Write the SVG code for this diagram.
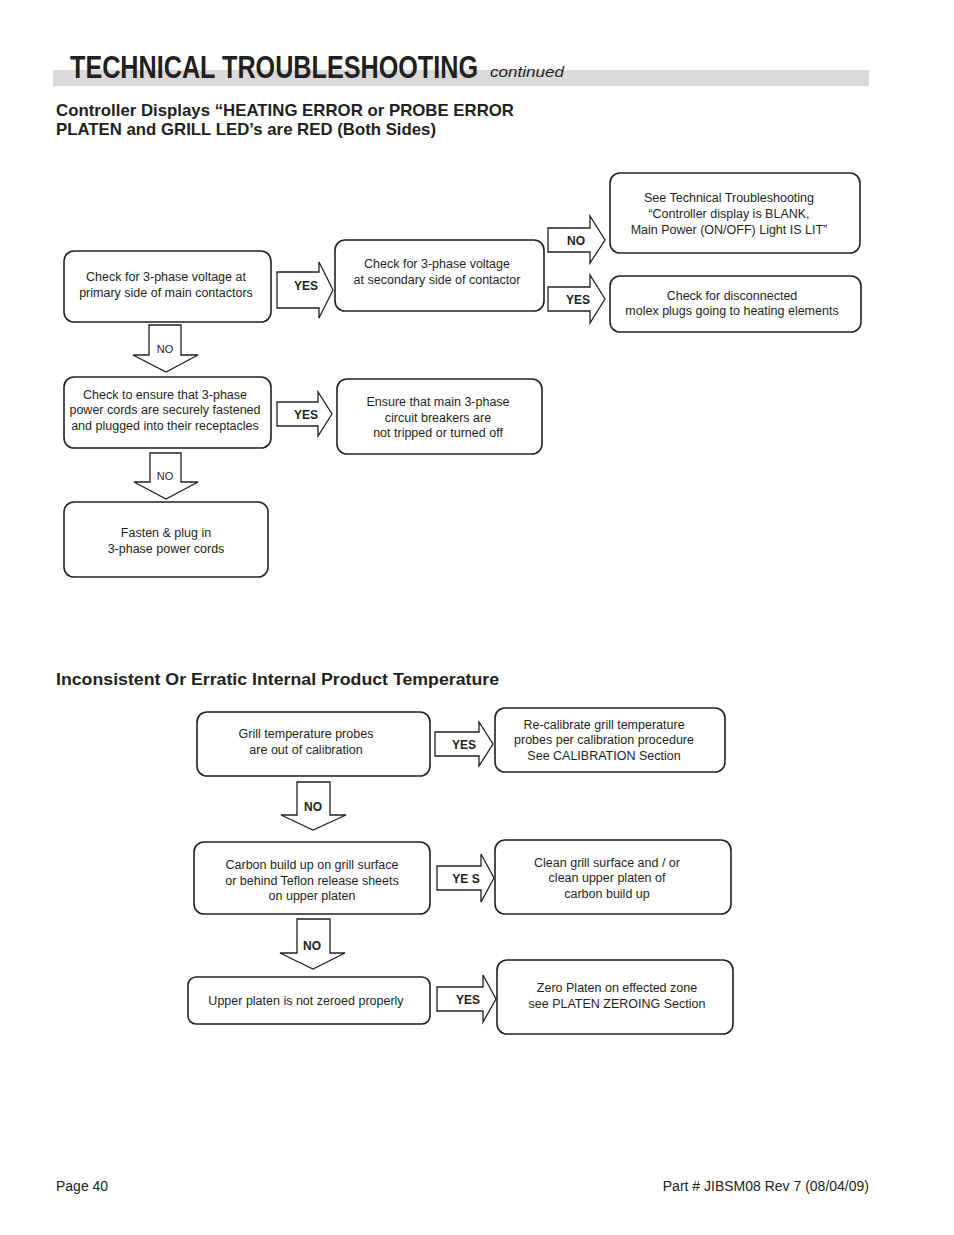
<svg xmlns="http://www.w3.org/2000/svg" width="954" height="1235" viewBox="0 0 954 1235">
<style>
.box{fill:#fff;stroke:#231f20;stroke-width:1.6}
.arr{fill:#fff;stroke:#231f20;stroke-width:1.3;stroke-linejoin:miter}
.t{font-family:"Liberation Sans",Arial,sans-serif;font-size:12.5px;fill:#231f20;text-anchor:middle}
.lb{font-family:"Liberation Sans",Arial,sans-serif;font-size:12px;font-weight:bold;fill:#231f20;text-anchor:middle}
.ln{font-family:"Liberation Sans",Arial,sans-serif;font-size:11px;fill:#231f20;text-anchor:middle}
.h{font-family:"Liberation Sans",Arial,sans-serif;font-weight:bold;fill:#231f20}
</style>
<rect width="954" height="1235" fill="#fff"/>
<g id="header">
<rect x="53" y="70" width="816" height="16" fill="#d9d9d9"/>
<text class="h" x="70" y="78" font-size="31" textLength="408" lengthAdjust="spacingAndGlyphs">TECHNICAL TROUBLESHOOTING</text>
<text x="490" y="77" font-family="Liberation Sans,Arial,sans-serif" font-style="italic" font-size="15" fill="#231f20" textLength="74" lengthAdjust="spacingAndGlyphs">continued</text>
<text class="h" x="56" y="116" font-size="17" textLength="458" lengthAdjust="spacingAndGlyphs">Controller Displays “HEATING ERROR or PROBE ERROR</text>
<text class="h" x="56" y="135" font-size="17" textLength="380" lengthAdjust="spacingAndGlyphs">PLATEN and GRILL LED’s are RED (Both Sides)</text>
<text class="h" x="56" y="685" font-size="16" textLength="443" lengthAdjust="spacingAndGlyphs">Inconsistent Or Erratic Internal Product Temperature</text>
</g>
<g id="connectors">
<path class="arr" d="M277,272 H319 V262 L333,290 L319,318 V308 H277 Z"/>
<text class="lb" x="306" y="290">YES</text>
<path class="arr" d="M548,228 H590 V216 L605,240 L590,263 V252 H548 Z"/>
<text class="lb" x="576" y="245">NO</text>
<path class="arr" d="M548,287 H590 V275 L605,299 L590,323 V311 H548 Z"/>
<text class="lb" x="578" y="304">YES</text>
<path class="arr" d="M149,325 H181 V355 H198 L166,372 L133,355 H149 Z"/>
<text class="ln" x="165" y="353">NO</text>
<path class="arr" d="M277,402 H318 V392 L332,414 L318,436 V426 H277 Z"/>
<text class="lb" x="306" y="419">YES</text>
<path class="arr" d="M150,453 H181 V482 H198 L166,499 L134,482 H150 Z"/>
<text class="ln" x="165" y="480">NO</text>
<path class="arr" d="M435,732 H479 V722 L493,744 L479,766 V756 H435 Z"/>
<text class="lb" x="464" y="749">YES</text>
<path class="arr" d="M297,782 H330 V815 H346 L313,830 L281,815 H297 Z"/>
<text class="lb" x="313" y="811">NO</text>
<path class="arr" d="M437,866 H481 V854 L494,878 L481,902 V890 H437 Z"/>
<text class="lb" x="466" y="883">YE S</text>
<path class="arr" d="M297,919 H330 V953 H345 L313,969 L280,953 H297 Z"/>
<text class="lb" x="312" y="950">NO</text>
<path class="arr" d="M437,987 H483 V975 L496,999 L483,1022 V1011 H437 Z"/>
<text class="lb" x="468" y="1004">YES</text>
</g>
<g id="nodeA"><rect class="box" x="64" y="251" width="207" height="71" rx="10"/>
<text class="t" x="166" y="281">Check for 3-phase voltage at</text>
<text class="t" x="166" y="297">primary side of main contactors</text></g>
<g id="nodeB"><rect class="box" x="335" y="240" width="209" height="71" rx="10"/>
<text class="t" x="437" y="268">Check for 3-phase voltage</text>
<text class="t" x="437" y="284">at secondary side of contactor</text></g>
<g id="nodeC"><rect class="box" x="610" y="173" width="250" height="80" rx="10"/>
<text class="t" x="729" y="202">See Technical Troubleshooting</text>
<text class="t" x="729" y="218">“Controller display is BLANK,</text>
<text class="t" x="729" y="234">Main Power (ON/OFF) Light IS LIT”</text></g>
<g id="nodeD"><rect class="box" x="610" y="276" width="251" height="56" rx="10"/>
<text class="t" x="732" y="300">Check for disconnected</text>
<text class="t" x="732" y="315">molex plugs going to heating elements</text></g>
<g id="nodeE"><rect class="box" x="64" y="377" width="207" height="71" rx="10"/>
<text class="t" x="165" y="399">Check to ensure that 3-phase</text>
<text class="t" x="165" y="414">power cords are securely fastened</text>
<text class="t" x="165" y="430">and plugged into their receptacles</text></g>
<g id="nodeF"><rect class="box" x="337" y="379" width="205" height="75" rx="10"/>
<text class="t" x="438" y="406">Ensure that main 3-phase</text>
<text class="t" x="438" y="422">circuit breakers are</text>
<text class="t" x="438" y="437">not tripped or turned off</text></g>
<g id="nodeG"><rect class="box" x="64" y="502" width="204" height="75" rx="10"/>
<text class="t" x="166" y="537">Fasten &amp; plug in</text>
<text class="t" x="166" y="553">3-phase power cords</text></g>
<g id="nodeH"><rect class="box" x="197" y="712" width="233" height="64" rx="10"/>
<text class="t" x="306" y="738">Grill temperature probes</text>
<text class="t" x="306" y="754">are out of calibration</text></g>
<g id="nodeI"><rect class="box" x="495" y="708" width="230" height="64" rx="10"/>
<text class="t" x="604" y="729">Re-calibrate grill  temperature</text>
<text class="t" x="604" y="744">probes per calibration procedure</text>
<text class="t" x="604" y="760">See CALIBRATION Section</text></g>
<g id="nodeJ"><rect class="box" x="194" y="842" width="236" height="72" rx="10"/>
<text class="t" x="312" y="869">Carbon build up on grill surface</text>
<text class="t" x="312" y="885">or behind Teflon release sheets</text>
<text class="t" x="312" y="900">on upper platen</text></g>
<g id="nodeK"><rect class="box" x="495" y="840" width="236" height="74" rx="10"/>
<text class="t" x="607" y="867">Clean grill surface and / or</text>
<text class="t" x="607" y="882">clean upper platen of</text>
<text class="t" x="607" y="898">carbon build up</text></g>
<g id="nodeL"><rect class="box" x="188" y="977" width="242" height="47" rx="8"/>
<text class="t" x="306" y="1005">Upper platen is not zeroed properly</text></g>
<g id="nodeM"><rect class="box" x="497" y="960" width="236" height="74" rx="10"/>
<text class="t" x="617" y="992">Zero Platen on effected zone</text>
<text class="t" x="617" y="1008">see PLATEN ZEROING Section</text></g>
<g id="footer">
<text x="56" y="1191" font-family="Liberation Sans,Arial,sans-serif" font-size="14" fill="#231f20">Page 40</text>
<text x="869" y="1191" font-family="Liberation Sans,Arial,sans-serif" font-size="14" fill="#231f20" text-anchor="end">Part # JIBSM08 Rev 7 (08/04/09)</text>
</g>
</svg>
